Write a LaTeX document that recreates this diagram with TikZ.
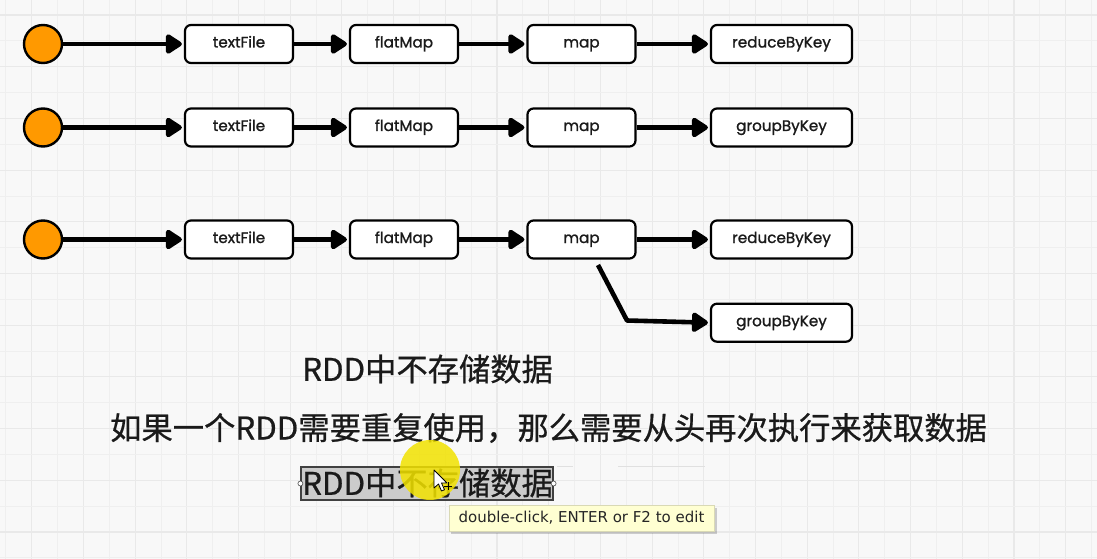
\documentclass[tikz,border=0pt]{standalone}
\usepackage{fontspec}
\newfontfamily\cjk[FakeBold=0.7]{Noto Sans CJK SC}
\newfontfamily\boxfont[FakeBold=1.2]{Poppins}
\newfontfamily\tipfont{DejaVu Sans}
\usetikzlibrary{arrows.meta}
\definecolor{bg}{HTML}{F8F8F8}
\definecolor{gridminor}{HTML}{EFEFEF}
\definecolor{gridmajor}{HTML}{E9E9E9}
\definecolor{orangefill}{HTML}{FF9900}
\definecolor{txt}{HTML}{1A1A1A}
\definecolor{selgray}{HTML}{CBCBCB}
\definecolor{tipfill}{HTML}{FFFFD2}
\definecolor{tipborder}{HTML}{D9D9B5}
\definecolor{hiyellow}{HTML}{F2E200}
\tikzset{
  op/.style={draw, line width=2.2pt, rounded corners=6pt, fill=white, minimum width=108pt, minimum height=38pt, inner sep=0pt, text height=0.8em, text depth=0.1em, text=txt, font=\boxfont\fontsize{15.2}{15.2}\selectfont},
  wideop/.style={op, minimum width=141pt},
  src/.style={circle, draw, line width=2.4pt, fill=orangefill, minimum size=38pt, inner sep=0pt},
  arr/.style={line width=4.6pt, line join=round, shorten >=2pt, -{Triangle[length=18pt,width=22pt,round]}},
  cjktext/.style={anchor=west, inner sep=0pt, text=txt, font=\cjk\fontsize{31.3}{31.3}\selectfont},
}
\begin{document}
\begin{tikzpicture}[x=1pt,y=-1pt]
\useasboundingbox (0,0) rectangle (1097,559);
\fill[bg] (0,0) rectangle (1097,559);
% grid
\foreach \i in {0,...,42} {
  \pgfmathtruncatemacro{\odd}{mod(\i,2)}
  \ifnum\odd=1
    \draw[gridmajor, line width=1.1pt] ({5.85+25.85*\i},0) -- ({5.85+25.85*\i},559);
  \else
    \draw[gridminor, line width=0.8pt] ({5.85+25.85*\i},0) -- ({5.85+25.85*\i},559);
  \fi
}
\foreach \j in {0,...,21} {
  \pgfmathtruncatemacro{\odd}{mod(\j,2)}
  \ifnum\odd=0
    \draw[gridmajor, line width=1.1pt] (0,{15+25.85*\j}) -- (1097,{15+25.85*\j});
  \else
    \draw[gridminor, line width=0.8pt] (0,{15+25.85*\j}) -- (1097,{15+25.85*\j});
  \fi
}
% row 1
\node[src] (c1) at (43,44) {};
\node[op] (t1) at (239,44) {textFile};
\node[op] (f1) at (404,44) {flatMap};
\node[op] (m1) at (581.5,44) {map};
\node[wideop] (r1) at (781.5,44) {reduceByKey};
\draw[arr] (c1) -- (t1);
\draw[arr] (t1) -- (f1);
\draw[arr] (f1) -- (m1);
\draw[arr] (m1) -- (r1);
% row 2
\node[src] (c2) at (43,127.5) {};
\node[op] (t2) at (239,127.5) {textFile};
\node[op] (f2) at (404,127.5) {flatMap};
\node[op] (m2) at (581.5,127.5) {map};
\node[wideop] (g2) at (781.5,127.5) {groupByKey};
\draw[arr] (c2) -- (t2);
\draw[arr] (t2) -- (f2);
\draw[arr] (f2) -- (m2);
\draw[arr] (m2) -- (g2);
% row 3
\node[src] (c3) at (43,239.5) {};
\node[op] (t3) at (239,239.5) {textFile};
\node[op] (f3) at (404,239.5) {flatMap};
\node[op] (m3) at (581.5,239.5) {map};
\node[wideop] (r3) at (781.5,239.5) {reduceByKey};
\node[wideop] (g3) at (781.5,322.7) {groupByKey};
\draw[arr] (c3) -- (t3);
\draw[arr] (t3) -- (f3);
\draw[arr] (f3) -- (m3);
\draw[arr] (m3) -- (r3);
\coordinate (bstart) at (598,265);
\coordinate (bend) at (627,320.5);
\draw[arr] (bstart) -- (bend) -- (g3.west);
% texts
\node[cjktext] (s1) at (302,369) {RDD中不存储数据};
\node[cjktext] (s2) at (110,428) {如果一个RDD需要重复使用，那么需要从头再次执行来获取数据};
% selected copy
\draw[selgray!60!white, line width=1pt] (557,466) -- (573,466);
\draw[selgray!60!white, line width=1pt] (618,466) -- (705,466);
\node[draw=black!75, line width=1.2pt, fill=selgray, minimum width=252pt, minimum height=33pt, inner sep=0pt] (sel) at (427,483.5) {};
\node[cjktext] (s3) at (302,483) {RDD中不存储数据};
\node[circle, draw=black!70, fill=white, line width=0.6pt, minimum size=5pt, inner sep=0pt] (h1) at (sel.west) {};
\node[circle, draw=black!70, fill=white, line width=0.6pt, minimum size=5pt, inner sep=0pt] (h2) at (sel.east) {};
% highlight
\fill[hiyellow, opacity=0.85] (430,470) circle (30);
% cursor
\draw[black, fill=white, line width=0.8pt, line join=round] (434,470) -- (434,488) -- (438.5,484) -- (441.5,491) -- (444.5,489.8) -- (441.5,483) -- (447,483) -- cycle;
\draw[black, line width=0.9pt] (444,486) -- (452,486) (448,482) -- (448,490);
% tooltip
\fill[black, opacity=0.18] (451,508) rectangle (717,534);
\node[draw=tipborder, fill=tipfill, line width=0.6pt, minimum width=265pt, minimum height=26pt, inner sep=0pt, text=black!85, font=\tipfont\fontsize{15}{15}\selectfont] (tip) at (581.5,518) {double-click, ENTER or F2 to edit};
\end{tikzpicture}
\end{document}
